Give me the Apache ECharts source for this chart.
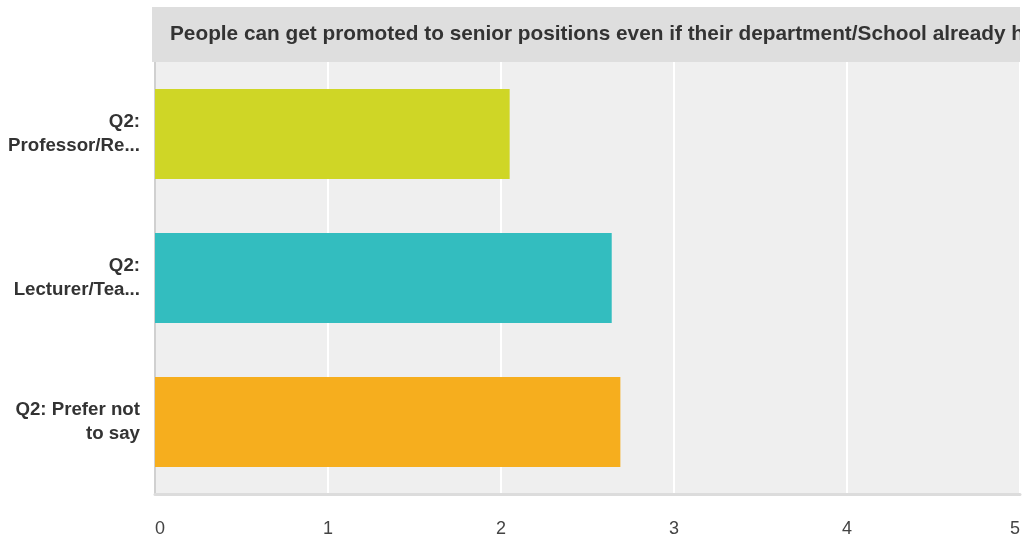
<!DOCTYPE html>
<html>
<head>
<meta charset="utf-8">
<style>
html,body{margin:0;padding:0;background:#fff;}
#chart{width:1029px;height:540px;}
</style>
<script src="https://cdn.jsdelivr.net/npm/echarts@6/dist/echarts.min.js"></script>
</head>
<body>
<div id="chart"></div>
<script>
const titleText = "People can get promoted to senior positions even if their department/School already has many people at senior level";
const categories = ["Q2:\nProfessor/Re...", "Q2:\nLecturer/Tea...", "Q2: Prefer not\nto say"];
const values = [2.05, 2.64, 2.69];
const barColors = ["#cfd626", "#33bdbf", "#f6ae1e"];
const xTicks = [0, 1, 2, 3, 4, 5];

const FONT = '"Liberation Sans", Arial, Helvetica, sans-serif';
const chart = echarts.init(document.getElementById('chart'), null, {renderer: 'canvas'});
chart.setOption({
  animation: false,
  backgroundColor: '#ffffff',
  grid: {
    left: 155, top: 62, width: 865, height: 432,
    show: true, backgroundColor: '#efefef', borderWidth: 0
  },
  xAxis: {
    type: 'value',
    min: xTicks[0], max: xTicks[xTicks.length - 1], interval: 1,
    axisLine: {show: true, onZero: false, lineStyle: {color: '#dcdcdc', width: 3}},
    axisTick: {show: false},
    splitLine: {show: true, lineStyle: {color: '#ffffff', width: 2}},
    axisLabel: {
      color: '#444', fontSize: 18, fontFamily: FONT, margin: 26,
      alignMinLabel: 'left', alignMaxLabel: 'right'
    }
  },
  yAxis: {
    type: 'category',
    data: categories,
    inverse: true,
    axisLine: {show: true, lineStyle: {color: '#d0d0d0', width: 2}},
    axisTick: {show: false},
    splitLine: {show: false},
    axisLabel: {
      color: '#333', fontSize: 18.7, fontWeight: 'bold', fontFamily: FONT,
      margin: 15, lineHeight: 24, align: 'right'
    }
  },
  series: [{
    type: 'bar',
    barWidth: 90,
    data: values.map((v, i) => ({value: v, itemStyle: {color: barColors[i]}})),
    label: {show: false}
  }],
  graphic: [
    {type: 'rect', z: 100, shape: {x: 152, y: 7, width: 868, height: 55}, style: {fill: '#dedede'}},
    {type: 'text', z: 101, x: 170, y: 34, style: {
      text: titleText, fill: '#333', font: 'bold 20.8px ' + FONT, textVerticalAlign: 'middle'
    }},
    {type: 'rect', z: 102, shape: {x: 1020, y: 0, width: 20, height: 62}, style: {fill: '#ffffff'}}
  ]
});
</script>
</body>
</html>
